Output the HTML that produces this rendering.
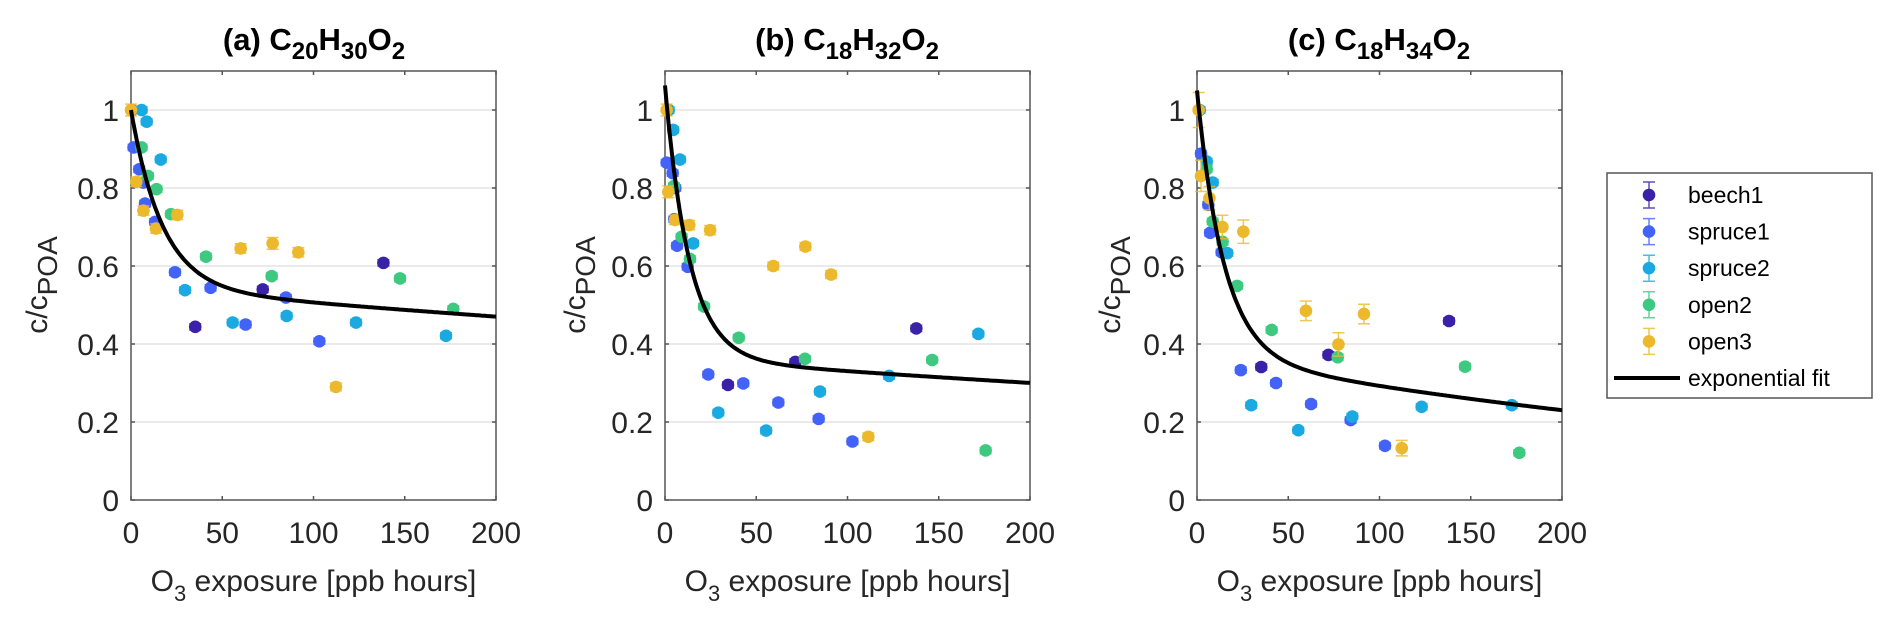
<!DOCTYPE html>
<html><head><meta charset="utf-8"><style>
html,body{margin:0;padding:0;background:#fff;}
svg{display:block;font-family:"Liberation Sans",Arial,sans-serif;}
</style></head><body>
<svg id="fig" width="1892" height="626" viewBox="0 0 1892 626" xmlns="http://www.w3.org/2000/svg"></svg>
<script>
// ---- data ----
const seriesNames = ["beech1","spruce1","spruce2","open2","open3"];
const seriesColors = ["#3a22a8","#4363f8","#1aa9e0","#3dc97f","#ebb92b"];
const xTicks = [0,50,100,150,200];
const yTicks = [0,0.2,0.4,0.6,0.8,1];
const yTickLabels = ["0","0.2","0.4","0.6","0.8","1"];

const a_beech1_x = [35.2,72.2,138.3];
const a_beech1_y = [0.444,0.540,0.608];
const a_spruce1_x = [0.5,1.4,4.5,6.8,7.7,13.2,24.1,43.6,62.8,84.9,103.2];
const a_spruce1_y = [1.0,0.904,0.848,0.814,0.76,0.713,0.584,0.544,0.450,0.519,0.407];
const a_spruce2_x = [5.8,8.6,16.3,29.6,55.7,85.3,123.3,172.6];
const a_spruce2_y = [1.0,0.97,0.873,0.538,0.455,0.472,0.455,0.421];
const a_open2_x = [5.8,9.3,14,21.9,41.1,77.1,147.4,176.6];
const a_open2_y = [0.904,0.831,0.797,0.733,0.624,0.574,0.568,0.49];
const a_open3_x = [0,2.9,6.8,13.7,25.4,60.1,77.6,91.7,112.3];
const a_open3_y = [1.0,0.816,0.742,0.696,0.731,0.645,0.658,0.635,0.290];
const a_open3_err = [0.015,0.012,0.012,0.012,0.012,0.012,0.015,0.012,0.01];

const b_beech1_x = [34.5,71.4,137.7];
const b_beech1_y = [0.295,0.354,0.44];
const b_spruce1_x = [0.9,4.2,5.6,5.1,6.6,12.4,23.7,42.9,62.1,84.2,102.7];
const b_spruce1_y = [0.865,0.838,0.80,0.72,0.652,0.598,0.322,0.299,0.250,0.208,0.150];
const b_spruce2_x = [2,4.5,8.2,15.4,29.2,55.4,84.9,122.8,171.7];
const b_spruce2_y = [1.0,0.949,0.873,0.658,0.224,0.178,0.278,0.318,0.426];
const b_open2_x = [4.9,9.1,13.7,21.4,40.4,76.7,146.4,175.7];
const b_open2_y = [0.805,0.675,0.618,0.496,0.416,0.362,0.359,0.127];
const b_open3_x = [0.9,1.8,5.5,13.3,24.7,59.3,76.9,91,111.4];
const b_open3_y = [1.0,0.79,0.718,0.705,0.692,0.600,0.650,0.578,0.162];
const b_open3_err = [0.015,0.015,0.012,0.012,0.012,0.01,0.01,0.01,0.01];

const c_beech1_x = [35.2,72,138.1];
const c_beech1_y = [0.341,0.372,0.459];
const c_spruce1_x = [2.2,6.2,7.2,13.5,24,43.3,62.5,84.2,103];
const c_spruce1_y = [0.888,0.757,0.685,0.635,0.333,0.30,0.246,0.205,0.139];
const c_spruce2_x = [1.5,5.3,8.6,16.6,29.7,55.5,85.1,123.1,172.5];
const c_spruce2_y = [1.0,0.868,0.814,0.633,0.243,0.179,0.214,0.239,0.243];
const c_open2_x = [5.3,8.6,14,22,40.9,77.1,146.9,176.6];
const c_open2_y = [0.848,0.714,0.662,0.549,0.436,0.366,0.342,0.121];
const c_open3_x = [0.9,2.2,6.8,13.9,25.4,59.7,77.5,91.5,112.2];
const c_open3_y = [1.0,0.831,0.774,0.70,0.688,0.485,0.399,0.477,0.133];
const c_open3_err = [0.045,0.04,0.03,0.03,0.03,0.025,0.03,0.025,0.02];

// fit parameters: y = A*exp(-k1 x) + B*exp(-k2 x)
const a_fit = [0.457,0.058,0.543,0.00072];
const b_fit = [0.70,0.075,0.363,0.00095];
const c_fit = [0.68,0.068,0.37,0.00237];

const panels = [
  {id:"a", left:131, title:["(a) C","20","H","30","O","2"], titleX:314, ytx:37,
   series:[[a_beech1_x,a_beech1_y,null],[a_spruce1_x,a_spruce1_y,null],[a_spruce2_x,a_spruce2_y,null],[a_open2_x,a_open2_y,null],[a_open3_x,a_open3_y,a_open3_err]], fit:a_fit},
  {id:"b", left:665, title:["(b) C","18","H","32","O","2"], titleX:847, ytx:575,
   series:[[b_beech1_x,b_beech1_y,null],[b_spruce1_x,b_spruce1_y,null],[b_spruce2_x,b_spruce2_y,null],[b_open2_x,b_open2_y,null],[b_open3_x,b_open3_y,b_open3_err]], fit:b_fit},
  {id:"c", left:1197, title:["(c) C","18","H","34","O","2"], titleX:1379, ytx:1110,
   series:[[c_beech1_x,c_beech1_y,null],[c_spruce1_x,c_spruce1_y,null],[c_spruce2_x,c_spruce2_y,null],[c_open2_x,c_open2_y,null],[c_open3_x,c_open3_y,c_open3_err]], fit:c_fit}
];

const NS = "http://www.w3.org/2000/svg";
const svg = document.getElementById("fig");
function mk(tag, attrs, parent){
  const e = document.createElementNS(NS, tag);
  for (const k in attrs) e.setAttribute(k, attrs[k]);
  (parent||svg).appendChild(e);
  return e;
}
const W = 365, TOP = 71, BOT = 500, YMAX = 1.1;
const H = BOT - TOP;

panels.forEach(p => {
  const sx = v => p.left + v / 200 * W;
  const sy = v => BOT - v / YMAX * H;
  const g = mk("g", {});
  
  

  // gridlines
  yTicks.forEach((t,i) => {
    if (t === 0) return;
    const gl = mk("line", {x1:p.left, x2:p.left+W, y1:sy(t), y2:sy(t), stroke:"#e3e3e3", "stroke-width":1.5}, g);
    
    
  });
  // axes box
  const box = mk("rect", {x:p.left, y:TOP, width:W, height:H, fill:"none", stroke:"#555", "stroke-width":1.5}, g);
  
  
  // ticks
  xTicks.forEach(t => {
    mk("line", {x1:sx(t), x2:sx(t), y1:BOT, y2:BOT-4, stroke:"#555", "stroke-width":1.5}, g);
    mk("line", {x1:sx(t), x2:sx(t), y1:TOP, y2:TOP+4, stroke:"#555", "stroke-width":1.5}, g);
    const tl = mk("text", {x:sx(t), y:543, "text-anchor":"middle", "font-size":30, fill:"#262626"}, g);
    tl.textContent = t;
    
    
  });
  yTicks.forEach((t,i) => {
    mk("line", {x1:p.left, x2:p.left+4, y1:sy(t), y2:sy(t), stroke:"#555", "stroke-width":1.5}, g);
    mk("line", {x1:p.left+W, x2:p.left+W-4, y1:sy(t), y2:sy(t), stroke:"#555", "stroke-width":1.5}, g);
    const tl = mk("text", {x:p.left-12, y:sy(t)+11, "text-anchor":"end", "font-size":30, fill:"#262626"}, g);
    tl.textContent = yTickLabels[i];
    
    
  });
  // title
  const tt = mk("text", {x:p.titleX, y:50, "text-anchor":"middle", "font-size":31, "font-weight":"bold", fill:"#000"}, g);
  
  
  p.title.forEach((s,i) => {
    const ts = mk("tspan", i%2 ? {"font-size":24, dy:9} : (i>0 ? {dy:-9} : {}), tt);
    ts.textContent = s;
  });
  // x label
  const xl = mk("text", {x:p.left+W/2, y:591, "text-anchor":"middle", "font-size":30, fill:"#262626"}, g);
  
  
  let s1 = mk("tspan", {}, xl); s1.textContent = "O";
  let s2 = mk("tspan", {"font-size":22, dy:10}, xl); s2.textContent = "3";
  let s3 = mk("tspan", {dy:-10}, xl); s3.textContent = " exposure [ppb hours]";
  // y label
  const yl = mk("text", {x:0, y:0, "text-anchor":"middle", "font-size":30, fill:"#262626", transform:"translate("+(p.ytx+10)+",285) rotate(-90)"}, g);
  
  
  let y1 = mk("tspan", {}, yl); y1.textContent = "c/c";
  let y2 = mk("tspan", {dy:10, "font-size":28}, yl); y2.textContent = "POA";

  // series
  p.series.forEach((s,si) => {
    const sg = mk("g", {}, g);
    
    
    const col = seriesColors[si];
    s[0].forEach((xv,j) => {
      const cx = sx(xv), cy = sy(s[1][j]);
      const e = s[2] ? s[2][j] : 0.008;
      const eb = mk("path", {d:"M"+cx+" "+sy(s[1][j]-e)+"V"+sy(s[1][j]+e)+"M"+(cx-6)+" "+sy(s[1][j]-e)+"H"+(cx+6)+"M"+(cx-6)+" "+sy(s[1][j]+e)+"H"+(cx+6), stroke:col, "stroke-width":1.5, fill:"none", opacity:0.8}, sg);
      
      
      const c = mk("circle", {cx:cx, cy:cy, r:6.3, fill:col}, sg);
      
      
    });
  });
  // fit
  let d = "";
  for (let xv = 0; xv <= 200; xv += 1) {
    const yv = p.fit[0]*Math.exp(-p.fit[1]*xv) + p.fit[2]*Math.exp(-p.fit[3]*xv);
    d += (xv ? "L" : "M") + sx(xv).toFixed(1) + " " + sy(yv).toFixed(1);
  }
  const fl = mk("path", {d:d, stroke:"#000", "stroke-width":4, fill:"none"}, g);
  
  
});

// legend
const lg = mk("g", {});


mk("rect", {x:1607, y:173, width:265, height:225, fill:"#fff", stroke:"#555", "stroke-width":1.5}, lg);
seriesNames.forEach((n,i) => {
  const y = 195 + i*36.6;
  const eg = mk("g", {}, lg);
  
  
  mk("path", {d:"M1649 "+(y-13)+"V"+(y+13)+"M1643 "+(y-13)+"H1655M1643 "+(y+13)+"H1655", stroke:seriesColors[i], "stroke-width":1.5, fill:"none", opacity:0.8}, eg);
  mk("circle", {cx:1649, cy:y, r:6.3, fill:seriesColors[i]}, eg);
  const t = mk("text", {x:1688, y:y+8, "font-size":23, fill:"#000"}, eg);
  t.textContent = n;
});
const fe = mk("g", {}, lg);


mk("line", {x1:1614, x2:1680, y1:378, y2:378, stroke:"#000", "stroke-width":4}, fe);
const ft = mk("text", {x:1688, y:386, "font-size":23, fill:"#000"}, fe);
ft.textContent = "exponential fit";
</script>
</body></html>
